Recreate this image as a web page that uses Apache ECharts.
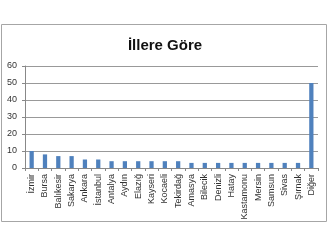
<!DOCTYPE html>
<html><head><meta charset="utf-8">
<script src="https://cdn.jsdelivr.net/npm/echarts@6/dist/echarts.min.js"></script>
<style>html,body{margin:0;padding:0;background:#fff}#c{width:330px;height:247px}</style>
</head><body><div id="c"></div>
<script>
const title = 'İllere Göre';
const categories = ['İzmir','Bursa','Balıkesir','Sakarya','Ankara','İstanbul','Antalya','Aydın','Elazığ','Kayseri','Kocaeli','Tekirdağ','Amasya','Bilecik','Denizli','Hatay','Kastamonu','Mersin','Samsun','Sivas','Şırnak','Diğer'];
const values = [10,8,7,7,5,5,4,4,4,4,4,4,3,3,3,3,3,3,3,3,3,50];
const yTicks = {min:0, max:60, interval:10};

const chart = echarts.init(document.getElementById('c'), null, {renderer:'canvas'});
chart.setOption({
  animation:false,
  textStyle:{fontFamily:'Liberation Sans'},
  graphic:[{type:'rect', shape:{x:1.5,y:24.5,width:325,height:197}, style:{fill:'none', stroke:'#a6a6a6', lineWidth:1}, z:-1}],
  title:{text:title, left:'center', top:33, textStyle:{fontSize:15, fontWeight:'bold', color:'#111', fontFamily:'Liberation Sans'}},
  grid:{left:25, right:12, top:66, bottom:79, containLabel:false},
  xAxis:{type:'category', data:categories,
    axisLine:{lineStyle:{color:'#888'}},
    axisTick:{show:true, alignWithLabel:false, length:3, lineStyle:{color:'#888'}},
    axisLabel:{rotate:90, interval:0, fontSize:9, color:'#333', margin:6}},
  yAxis:{type:'value', min:yTicks.min, max:yTicks.max, interval:yTicks.interval,
    axisLine:{show:true, lineStyle:{color:'#888'}},
    axisTick:{show:true, length:3, lineStyle:{color:'#888'}},
    axisLabel:{fontSize:9, color:'#333', margin:8},
    splitLine:{lineStyle:{color:'#999'}}},
  series:[{type:'bar', data:values, barWidth:'32%', itemStyle:{color:'#4f81bd'}}]
});
</script></body></html>
